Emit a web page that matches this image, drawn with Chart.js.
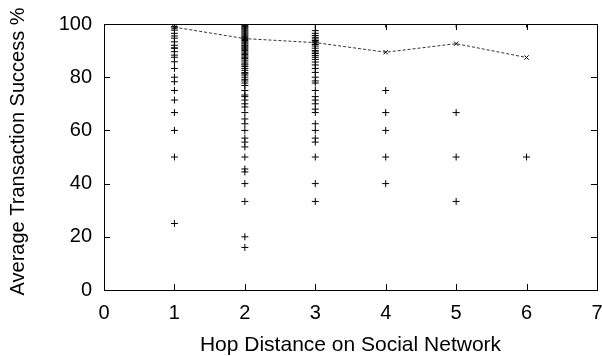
<!DOCTYPE html>
<html>
<head>
<meta charset="utf-8">
<script src="https://cdn.jsdelivr.net/npm/chart.js@4"></script>
<style>
  html, body { margin: 0; padding: 0; background: #fff; }
  #wrap { width: 602px; height: 356px; }
</style>
</head>
<body>
<div id="wrap"><canvas id="myChart"></canvas></div>
<script>
// success % of each transaction, grouped by hop distance
const hop1 = [100, 99, 98.5, 97.7, 96.5, 95.5, 94.7, 93.3, 92, 91, 90.9, 89.6, 88.3, 87.5, 85.8, 83.3, 80, 78.3, 75, 71.4, 66.7, 60, 50, 25];
const hop2 = [100, 99.4, 99, 98.6, 98.2, 97.8, 97.4, 97, 96.6, 96.2, 95.8, 95.4, 95, 94.6, 94.2, 93.8, 93.3, 92.9, 92.5, 92, 91.7, 91.3, 90.9, 90.5, 90, 89.5, 89, 88.5, 88, 87.5, 87, 86.4, 85.7, 85, 84.6, 84, 83.3, 82.6, 81.8, 81.3, 80.8, 80, 79.2, 78.6, 77.8, 76.9, 75, 73.3, 72.7, 71.4, 70, 68.8, 66.7, 64.3, 62.5, 60, 57.1, 55.6, 53.8, 50, 45.5, 44.4, 40, 33.3, 20, 16];
const hop3 = [100, 97.5, 96.5, 95.7, 95, 94.4, 93.8, 93.3, 92.9, 92.3, 91.7, 90.9, 90, 89.5, 88.9, 88.2, 87.5, 86.7, 85.7, 84.6, 83.3, 81.8, 80, 78.6, 77.8, 75, 72.7, 71.4, 70, 68, 66.7, 62.5, 60, 57.1, 55.6, 50, 40, 33.3];
const hop4 = [100, 75, 66.7, 60, 50, 40];
const hop5 = [100, 66.7, 50, 33.3];
const hop6 = [100, 50];
const hops = [1, 2, 3, 4, 5, 6];
const avgSuccess = [98.8, 94.5, 93, 89.4, 92.6, 87.4];
const xTicks = [0, 1, 2, 3, 4, 5, 6, 7];
const yTicks = [0, 20, 40, 60, 80, 100];

const groups = [hop1, hop2, hop3, hop4, hop5, hop6];
const scatterPts = [];
groups.forEach((vals, i) => {
    vals.forEach(v => scatterPts.push({ x: hops[i], y: v }));
});
const avgPts = hops.map((h, i) => ({ x: h, y: avgSuccess[i] }));

// gnuplot style frame with inward ticks on all four sides
const frameTicks = {
    id: 'frameTicks',
    afterDatasetsDraw(chart) {
        const { ctx, chartArea: a, scales } = chart;
        ctx.save();
        ctx.strokeStyle = '#000';
        ctx.lineWidth = 1;
        ctx.strokeRect(a.left + 0.5, a.top + 0.5, a.right - a.left, a.bottom - a.top);
        const len = 6;
        ctx.beginPath();
        xTicks.forEach(t => {
            const px = Math.round(scales.x.getPixelForValue(t)) + 0.5;
            ctx.moveTo(px, a.bottom); ctx.lineTo(px, a.bottom - len);
            ctx.moveTo(px, a.top); ctx.lineTo(px, a.top + len);
        });
        yTicks.forEach(t => {
            const py = Math.round(scales.y.getPixelForValue(t)) + 0.5;
            ctx.moveTo(a.left, py); ctx.lineTo(a.left + len, py);
            ctx.moveTo(a.right, py); ctx.lineTo(a.right - len, py);
        });
        ctx.stroke();
        ctx.restore();
    }
};

const ctx = document.getElementById('myChart').getContext('2d');
const myChart = new Chart(ctx, {
    type: 'scatter',
    data: {
        datasets: [{
            label: 'transactions',
            data: scatterPts,
            pointStyle: 'cross',
            pointRadius: 3.5,
            borderColor: '#000',
            backgroundColor: '#000',
            borderWidth: 1,
            showLine: false
        }, {
            label: 'average',
            data: avgPts,
            showLine: true,
            borderColor: '#000',
            backgroundColor: '#000',
            borderWidth: 0.8,
            borderDash: [3, 2],
            pointStyle: 'crossRot',
            pointRadius: 3,
            pointBorderWidth: 1
        }]
    },
    options: {
        responsive: true,
        maintainAspectRatio: false,
        animation: false,
        layout: { padding: { top: 24, right: 5, left: 0, bottom: 0 } },
        plugins: {
            legend: { display: false },
            tooltip: { enabled: false }
        },
        scales: {
            x: {
                type: 'linear',
                min: 0,
                max: 7,
                afterBuildTicks: s => { s.ticks = xTicks.map(v => ({ value: v })); },
                afterFit: s => { s.height = 66; s.paddingLeft = 0; s.paddingRight = 0; },
                grid: { display: false, drawTicks: false },
                border: { display: false },
                ticks: { color: '#000', font: { family: 'Liberation Sans', size: 20 }, padding: 11 },
                title: {
                    display: true,
                    text: 'Hop Distance on Social Network',
                    color: '#000',
                    font: { family: 'Liberation Sans', size: 21, lineHeight: 1 },
                    padding: { top: 0, bottom: 0 }
                }
            },
            y: {
                min: 0,
                max: 100,
                afterBuildTicks: s => { s.ticks = yTicks.map(v => ({ value: v })); },
                afterFit: s => { s.width = 104; s.paddingTop = 0; s.paddingBottom = 0; },
                grid: { display: false, drawTicks: false },
                border: { display: false },
                ticks: { color: '#000', font: { family: 'Liberation Sans', size: 20 }, padding: 12 },
                title: {
                    display: true,
                    text: '\u00a0\u00a0Average Transaction Success %',
                    color: '#000',
                    font: { family: 'Liberation Sans', size: 20 },
                    padding: { top: 6, bottom: 0 }
                }
            }
        }
    },
    plugins: [frameTicks]
});
</script>
</body>
</html>
